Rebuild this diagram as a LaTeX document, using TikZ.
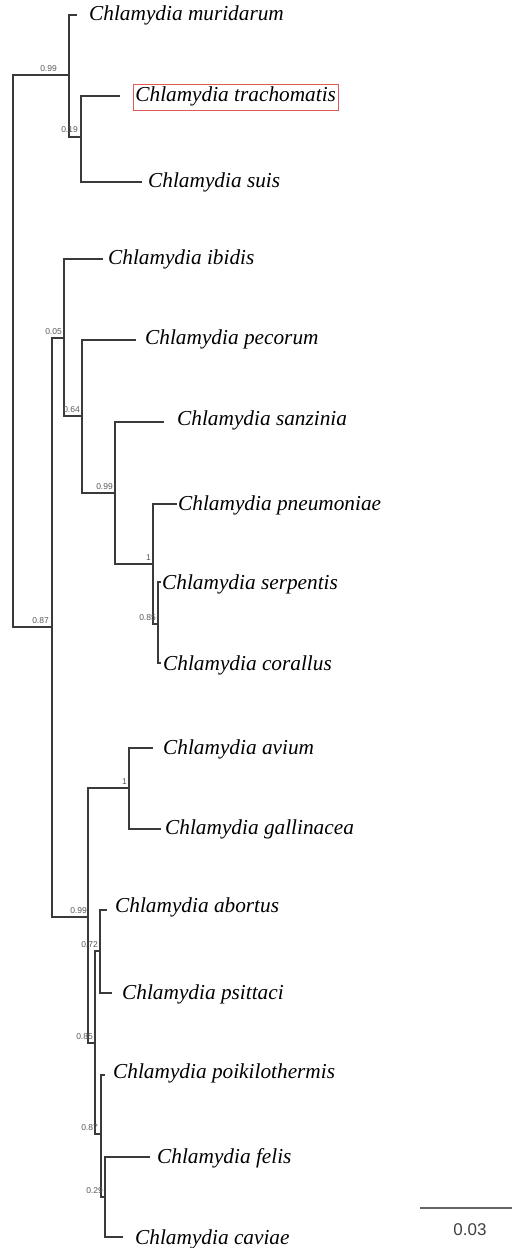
\documentclass[tikz,border=0pt]{standalone}
\usepackage{fontspec}
\setmainfont{Liberation Serif}
\newfontfamily\labfont{Liberation Sans}
\definecolor{treegray}{HTML}{3A3A3A}
\definecolor{boxred}{HTML}{E05A5A}
\tikzset{
  br/.style={line width=1.4pt, draw=treegray},
  taxon/.style={anchor=west, inner sep=0pt, text height=14.5pt, text depth=4.6pt,
    font=\fontsize{21.3}{24}\selectfont\itshape},
  hl/.style={draw=boxred, line width=0.8pt, inner xsep=2pt, inner ysep=3.5pt},
  supp/.style={anchor=south east, inner sep=0pt, text=black!65,
    font=\labfont\fontsize{8.5}{9}\selectfont},
  scalebar/.style={line width=1.8pt, draw=black!60},
  scalelab/.style={inner sep=0pt, text=black!75, font=\labfont\fontsize{17}{19}\selectfont}
}
\begin{document}
\begin{tikzpicture}[x=1pt,y=-1pt]
\useasboundingbox (0,0) rectangle (512,1248);
% internal nodes
\coordinate (r)   at (13,351);
\coordinate (n1)  at (69,75);
\coordinate (n2)  at (81,137);
\coordinate (n3)  at (52,627);
\coordinate (n4)  at (64,338);
\coordinate (n5)  at (82,416);
\coordinate (n6)  at (115,493);
\coordinate (n7)  at (153,564);
\coordinate (n8)  at (158,624);
\coordinate (n9)  at (88,917);
\coordinate (n10) at (129,788);
\coordinate (n11) at (95,1043);
\coordinate (n12) at (100,951);
\coordinate (n13) at (101,1134);
\coordinate (n14) at (105,1197);
% leaf tips
\coordinate (t1)  at (77,15);
\coordinate (t2)  at (120,96);
\coordinate (t3)  at (142,182);
\coordinate (t4)  at (103,259);
\coordinate (t5)  at (136,340);
\coordinate (t6)  at (164,422);
\coordinate (t7)  at (177,504);
\coordinate (t8)  at (161,582);
\coordinate (t9)  at (161,663);
\coordinate (t10) at (153,748);
\coordinate (t11) at (161,829);
\coordinate (t12) at (107,910);
\coordinate (t13) at (112,993);
\coordinate (t14) at (105,1075);
\coordinate (t15) at (150,1157);
\coordinate (t16) at (123,1237);
% taxon labels
\node[taxon] (l1)  at (89,16)    {Chlamydia muridarum};
\node[taxon,hl] (l2) at (133,97) {Chlamydia trachomatis};
\node[taxon] (l3)  at (148,183)  {Chlamydia suis};
\node[taxon] (l4)  at (108,260)  {Chlamydia ibidis};
\node[taxon] (l5)  at (145,340)  {Chlamydia pecorum};
\node[taxon] (l6)  at (177,421)  {Chlamydia sanzinia};
\node[taxon] (l7)  at (178,506)  {Chlamydia pneumoniae};
\node[taxon] (l8)  at (162,585)  {Chlamydia serpentis};
\node[taxon] (l9)  at (163,666)  {Chlamydia corallus};
\node[taxon] (l10) at (163,750)  {Chlamydia avium};
\node[taxon] (l11) at (165,830)  {Chlamydia gallinacea};
\node[taxon] (l12) at (115,908)  {Chlamydia abortus};
\node[taxon] (l13) at (122,995)  {Chlamydia psittaci};
\node[taxon] (l14) at (113,1074) {Chlamydia poikilothermis};
\node[taxon] (l15) at (157,1159) {Chlamydia felis};
\node[taxon] (l16) at (135,1240) {Chlamydia caviae};
% branches
\draw[br] (r) |- (n1);   \draw[br] (r) |- (n3);
\draw[br] (n1) |- (t1);  \draw[br] (n1) |- (n2);
\draw[br] (n2) |- (t2);  \draw[br] (n2) |- (t3);
\draw[br] (n3) |- (n4);  \draw[br] (n3) |- (n9);
\draw[br] (n4) |- (t4);  \draw[br] (n4) |- (n5);
\draw[br] (n5) |- (t5);  \draw[br] (n5) |- (n6);
\draw[br] (n6) |- (t6);  \draw[br] (n6) |- (n7);
\draw[br] (n7) |- (t7);  \draw[br] (n7) |- (n8);
\draw[br] (n8) |- (t8);  \draw[br] (n8) |- (t9);
\draw[br] (n9) |- (n10); \draw[br] (n9) |- (n11);
\draw[br] (n10) |- (t10); \draw[br] (n10) |- (t11);
\draw[br] (n11) |- (n12); \draw[br] (n11) |- (n13);
\draw[br] (n12) |- (t12); \draw[br] (n12) |- (t13);
\draw[br] (n13) |- (t14); \draw[br] (n13) |- (n14);
\draw[br] (n14) |- (t15); \draw[br] (n14) |- (t16);
\fill[treegray] (r) circle (1pt);
% support values
\node[supp] (s1)  at (57,72)    {0.99};
\node[supp] (s2)  at (78,133)   {0.19};
\node[supp] (s3)  at (49,624)   {0.87};
\node[supp] (s4)  at (62,335)   {0.05};
\node[supp] (s5)  at (80,413)   {0.64};
\node[supp] (s6)  at (113,490)  {0.99};
\node[supp] (s7)  at (151,561)  {1};
\node[supp] (s8)  at (156,621)  {0.85};
\node[supp] (s9)  at (87,914)   {0.99};
\node[supp] (s10) at (127,785)  {1};
\node[supp] (s11) at (93,1040)  {0.85};
\node[supp] (s12) at (98,948)   {0.72};
\node[supp] (s13) at (98,1131)  {0.87};
\node[supp] (s14) at (103,1194) {0.29};
% scale bar
\coordinate (sb1) at (420,1208);
\coordinate (sb2) at (512,1208);
\draw[scalebar] (sb1) -- (sb2);
\node[scalelab] (sbl) at (470,1230) {0.03};
\end{tikzpicture}
\end{document}
